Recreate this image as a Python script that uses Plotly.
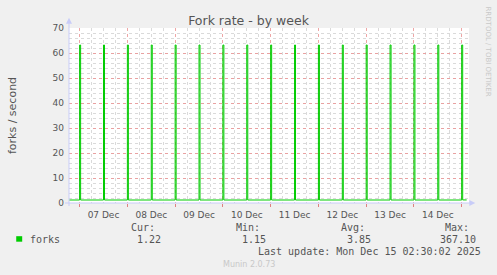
import plotly.graph_objects as go

# ---- data ----
spike_start = ["2025-12-07 00:00", "2025-12-07 12:00", "2025-12-08 00:00", "2025-12-08 12:00",
               "2025-12-09 00:00", "2025-12-09 12:00", "2025-12-10 00:00", "2025-12-10 12:00",
               "2025-12-11 00:00", "2025-12-11 12:00", "2025-12-12 00:00", "2025-12-12 12:00",
               "2025-12-13 00:00", "2025-12-13 12:00", "2025-12-14 00:00", "2025-12-14 12:00",
               "2025-12-15 00:00"]
spike_end = ["2025-12-07 00:30", "2025-12-07 12:30", "2025-12-08 00:30", "2025-12-08 12:30",
             "2025-12-09 00:30", "2025-12-09 12:30", "2025-12-10 00:30", "2025-12-10 12:30",
             "2025-12-11 00:30", "2025-12-11 12:30", "2025-12-12 00:30", "2025-12-12 12:30",
             "2025-12-13 00:30", "2025-12-13 12:30", "2025-12-14 00:30", "2025-12-14 12:30",
             "2025-12-15 00:30"]
spike_value = [63.2, 63.2, 63.2, 63.2, 63.2, 63.2, 63.2, 63.2, 63.2,
               63.2, 63.2, 63.2, 63.2, 63.2, 63.2, 63.2, 63.2]
base_value = [1.2, 1.2, 1.2, 1.2, 1.2, 1.2, 1.2, 1.2, 1.2,
              1.2, 1.2, 1.2, 1.2, 1.2, 1.2, 1.2, 1.22]
series_start = "2025-12-06 18:45"
series_end = "2025-12-15 02:30"
series_first_value = 1.2

x_range = ["2025-12-06 18:40", "2025-12-15 03:40"]
y_ticks = [0, 10, 20, 30, 40, 50, 60, 70]

stat_labels = ["Cur:", "Min:", "Avg:", "Max:"]
stat_values = ["1.22", "1.15", "3.85", "367.10"]
series_name = "forks"
last_update = "Last update: Mon Dec 15 02:30:02 2025"

# ---- build step series ----
xs = [series_start]
ys = [series_first_value]
for s, e, v, b in zip(spike_start, spike_end, spike_value, base_value):
    xs += [s, e]
    ys += [v, b]
xs.append(series_end)
ys.append(base_value[-1])

W, H = 497, 275
L, R, T, B = 67, 468.7, 28.3, 203.3

def px(x):
    return (x - L) / (R - L)

def py(y):
    return (B - y) / (B - T)

TXT = "#555555"
SANS = "DejaVu Sans"
MONO = "DejaVu Sans Mono"
GREEN = "#00CC00"
AXC = "#C8CCF8"
MAJ = "rgba(235,150,150,0.85)"
MINC = "#DADADA"

fig = go.Figure()
fig.add_trace(go.Scatter(x=xs, y=ys, mode="lines", line=dict(color=GREEN, width=1, shape="hv"),
                         showlegend=False, hoverinfo="skip"))

fig.update_layout(
    width=W, height=H,
    margin=dict(l=L, r=W - R, t=T, b=H - B, pad=0),
    paper_bgcolor="#F0F0F0", plot_bgcolor="#FFFFFF",
    font=dict(family=SANS, color=TXT, size=9),
    showlegend=False,
    title=dict(text="Fork rate - by week", x=0.5, xanchor="center", y=1 - 20.5 / H, yanchor="middle",
               font=dict(family=SANS, size=12.5, color=TXT)),
    xaxis=dict(
        type="date", range=x_range, dtick=86400000, tick0="2025-12-07", tickformat="%d %b",
        ticklabelmode="period", showgrid=True, gridcolor=MAJ, griddash="dot", gridwidth=1,
        ticks="outside", ticklen=3, tickcolor="#E08080", tickfont=dict(size=9, color=TXT),
        minor=dict(dtick=6 * 3600000, showgrid=True, gridcolor=MINC, griddash="dot", ticks=""),
        showline=False, zeroline=False, fixedrange=True,
    ),
    yaxis=dict(
        range=[0, 70], tickvals=y_ticks, showgrid=True, gridcolor=MAJ, griddash="dot",
        ticks="", ticklen=0, tickfont=dict(size=9, color=TXT), ticklabelstandoff=4,
        minor=dict(dtick=2, showgrid=True, gridcolor=MINC, griddash="dot"),
        showline=False, zeroline=False, fixedrange=True,
        title=dict(text="forks / second", font=dict(size=11, color=TXT), standoff=33),
    ),
)

shapes = []
# axis lines with arrows
shapes.append(dict(type="line", xref="paper", yref="paper", x0=px(L), x1=px(L), y0=py(B + 3), y1=py(22),
                   line=dict(color=AXC, width=1)))
shapes.append(dict(type="line", xref="paper", yref="paper", x0=px(L - 4), x1=px(472), y0=py(B), y1=py(B),
                   line=dict(color=AXC, width=1)))
shapes.append(dict(type="path", xref="paper", yref="paper",
                   path=f"M {px(L-3)} {py(24)} L {px(L+3)} {py(24)} L {px(L)} {py(18)} Z",
                   fillcolor=AXC, line=dict(width=0)))
shapes.append(dict(type="path", xref="paper", yref="paper",
                   path=f"M {px(469)} {py(B-3)} L {px(469)} {py(B+3)} L {px(475)} {py(B)} Z",
                   fillcolor=AXC, line=dict(width=0)))
# legend swatch
shapes.append(dict(type="rect", xref="paper", yref="paper", x0=px(14), x1=px(20), y0=py(242), y1=py(236.5),
                   fillcolor=GREEN, line=dict(width=0)))
fig.update_layout(shapes=shapes)

ann = []
def text(t, x, y, anchor="left", size=10, family=MONO, color=TXT, angle=0):
    ann.append(dict(text=t, xref="paper", yref="paper", x=px(x), y=py(y), xanchor=anchor, yanchor="middle",
                    showarrow=False, textangle=angle, font=dict(family=family, size=size, color=color)))

text(series_name, 26, 239.5)
stat_x_label = [155, 261, 366, 471]
stat_x_value = [161, 267, 372, 477.5]
for lab, val, xl, xv in zip(stat_labels, stat_values, stat_x_label, stat_x_value):
    text(lab, xl, 227.5, anchor="right")
    text(val, xv, 239.5, anchor="right")
text(last_update, 482.5, 251.5, anchor="right")
text("Munin 2.0.73", 248, 265, anchor="center", size=8, family=SANS, color="#C8C8C8")
text("RRDTOOL / TOBI OETIKER", 488, 52, anchor="center", size=7, family=SANS, color="#C8C8C8", angle=90)
fig.update_layout(annotations=ann)

fig.write_html("out.html")
